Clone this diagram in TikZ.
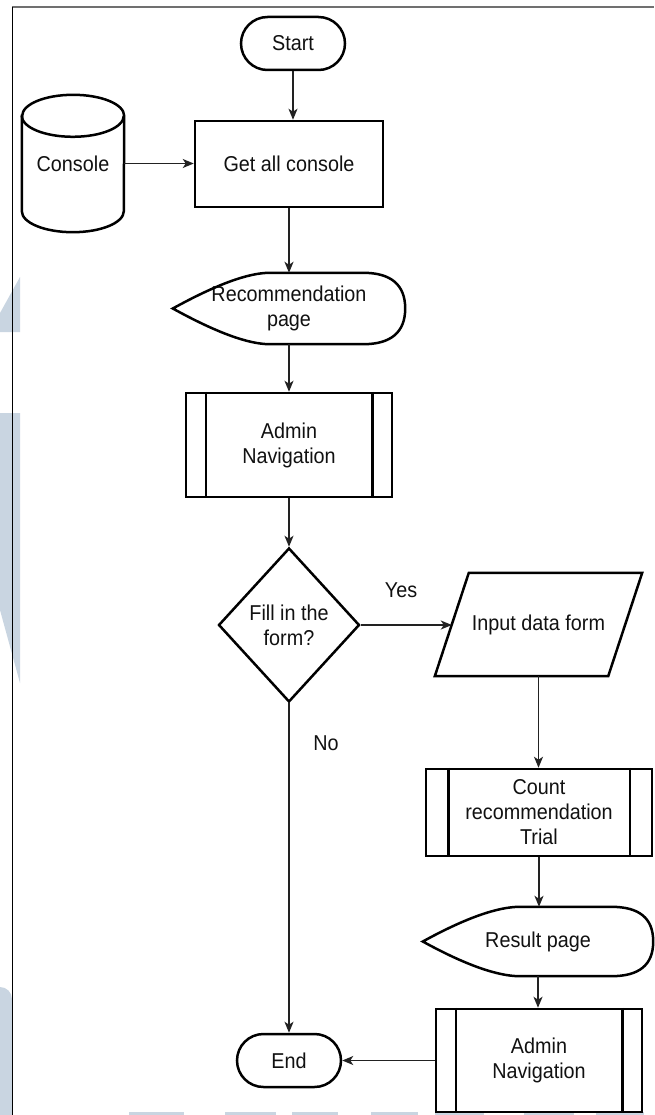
\documentclass[tikz,border=0pt]{standalone}
\usepackage{fontspec}
\setmainfont{Liberation Sans}[FakeStretch=0.92]
\usetikzlibrary{arrows.meta,shapes.geometric,shapes.misc}
\definecolor{ink}{HTML}{111111}
\definecolor{wire}{HTML}{222222}
\definecolor{wmark}{HTML}{C9D5E1}
\definecolor{framegray}{HTML}{707070}

% Outline of a "display" node: pointed left end, rounded right end
\newcommand\displayoutline[1]{%
  \draw[outline] (#1.west)
    .. controls ([xshift=42.7pt,yshift=23.5pt]#1.west) and ([xshift=75pt]#1.north west)
    .. ([xshift=97pt]#1.north west) -- ([xshift=-42pt]#1.north east)
    .. controls ([xshift=-14pt]#1.north east) and ([yshift=23.5pt]#1.east)
    .. (#1.east)
    .. controls ([yshift=-23.5pt]#1.east) and ([xshift=-14pt]#1.south east)
    .. ([xshift=-42pt]#1.south east) -- ([xshift=97pt]#1.south west)
    .. controls ([xshift=75pt]#1.south west) and ([xshift=42.7pt,yshift=-23.5pt]#1.west)
    .. (#1.west) -- cycle;}

% Side bars of a predefined-process node
\newcommand\sidebars[2]{%
  \draw[outline] ([xshift=#2]#1.north west) -- ([xshift=#2]#1.south west);
  \draw[outline] ([xshift=-#2]#1.north east) -- ([xshift=-#2]#1.south east);}

\begin{document}
\begin{tikzpicture}[x=1pt,y=-1pt,
  every node/.style={font=\fontsize{21.5}{25}\selectfont, text=ink, align=center, inner sep=0pt},
  outline/.style={draw=black, line width=2.5pt},
  terminal/.style={outline, rounded rectangle, minimum width=104pt, minimum height=53pt},
  procbox/.style={outline, rectangle, minimum width=188pt, minimum height=86pt},
  subproc/.style={outline, rectangle},
  decision/.style={outline, diamond, aspect=0.92, minimum width=141pt, minimum height=154pt},
  plain/.style={rectangle},
  conn/.style={draw=wire, line width=1.5pt, -{Stealth[length=11pt,width=9pt,inset=3pt]}}
]
\useasboundingbox (0,0) rectangle (654,1115);
\fill[white] (0,0) rectangle (654,1115);

% faint background marks
\fill[wmark] (0,313) -- (20,277) -- (20,332) -- (0,332) -- cycle;
\fill[wmark] (0,413) -- (20,413) -- (20,683) -- (0,610) -- cycle;
\fill[wmark] (0,987) arc[start angle=90, end angle=0, radius=12pt] -- (12,1115) -- (0,1115) -- cycle;
\foreach \a/\b in {129/184, 225/276, 292/338, 371/418, 435/484, 524/574, 596/644}
  \fill[wmark] (\a,1112) rectangle (\b,1115);

% page frame
\draw[framegray, line width=2pt] (12,7.5) -- (654,7.5);
\draw[black, line width=1.3pt] (12.5,7) -- (12.5,1115);

% nodes
\node[terminal] (start) at (293,43.5) {Start};
\node[procbox] (get) at (289,164) {Get all console};

\node[plain, minimum width=102pt, minimum height=137pt] (db) at (73,163.5) {Console};
\draw[outline] ([yshift=-21pt]db.north west) -- ([yshift=21pt]db.south west)
  arc[start angle=180, end angle=360, x radius=51pt, y radius=21pt]
  -- ([yshift=-21pt]db.north east)
  arc[start angle=0, end angle=180, x radius=51pt, y radius=21pt] -- cycle;
\draw[outline] ([yshift=-21pt]db.north west)
  arc[start angle=180, end angle=360, x radius=51pt, y radius=21pt];

\node[plain, minimum width=232pt, minimum height=71pt] (rec) at (289,308.5) {Recommendation\\page};
\displayoutline{rec}

\node[subproc, minimum width=206pt, minimum height=104pt] (nav1) at (289,445) {Admin\\Navigation};
\sidebars{nav1}{21pt}

\node[decision] (dec) at (289,625) {Fill in the\\form?};

\node[plain, minimum width=173pt, minimum height=103pt] (form) at (538.5,624.5) {Input data form};
\draw[outline] ([xshift=17pt]form.north west) -- ([xshift=17pt]form.north east)
  -- ([xshift=-17pt]form.south east) -- ([xshift=-17pt]form.south west) -- cycle;

\node[subproc, minimum width=226pt, minimum height=87pt] (count) at (539,812.5) {Count\\recommendation\\Trial};
\sidebars{count}{23.5pt}

\node[plain, minimum width=230pt, minimum height=69pt] (result) at (538,941.5) {Result page};
\displayoutline{result}

\node[subproc, minimum width=206pt, minimum height=103pt] (nav2) at (539,1060.5) {Admin\\Navigation};
\sidebars{nav2}{21pt}

\node[terminal] (stop) at (289,1060.5) {End};

\node (yes) at (401,590) {Yes};
\node (no) at (326,743) {No};

% connectors
\draw[conn] (start.south) -- (start.south |- get.north);
\draw[conn] (db.east) -- (db.east -| get.west);
\draw[conn] (get.south) -- (rec.north);
\draw[conn] (rec.south) -- (nav1.north);
\draw[conn] (nav1.south) -- (dec.north);
\draw[conn] (dec.east) -- (dec.east -| form.west);
\draw[conn] (form.south) -- (form.south |- count.north);
\draw[conn] (count.south) -- (count.south |- result.north);
\draw[conn] (result.south) -- (result.south |- nav2.north);
\draw[conn] (nav2.west) -- (stop.east);
\draw[conn] (dec.south) -- (stop.north);
\end{tikzpicture}
\end{document}
